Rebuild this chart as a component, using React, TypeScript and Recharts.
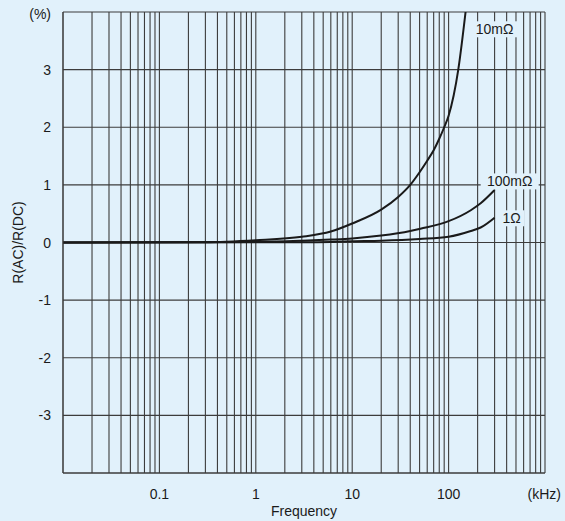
import React from 'react'
import { LineChart, Line, XAxis, YAxis, CartesianGrid, ReferenceDot } from 'recharts'

// ─── Palette ─────────────────────────────────────────────────────────────────
const BG = '#e1f1fb'
const INK = '#1a1a1a'
const GRID = '#3c3c3c'
const FONT = '"Liberation Sans", Arial, Helvetica, sans-serif'

// ─── Axes ────────────────────────────────────────────────────────────────────
const decades = [0.01, 0.1, 1, 10, 100]
const multipliers = [1, 2, 3, 4, 5, 6, 7, 8, 9]
const xTicks = [...decades.flatMap(d => multipliers.map(m => +(d * m).toPrecision(3))), 1000]
const xLabels: Record<number, string> = { 0.1: '0.1', 1: '1', 10: '10', 100: '100', 1000: '(kHz)' }
const yTicks = [-4, -3, -2, -1, 0, 1, 2, 3, 4]
const yLabels: Record<number, string> = { 4: '(%)', 3: '3', 2: '2', 1: '1', 0: '0', '-1': '-1', '-2': '-2', '-3': '-3' }

// ─── Series (frequency kHz → R(AC)/R(DC) %) ─────────────────────────────────
const freq10m = [0.01, 0.3, 1, 3, 6, 10, 20, 30, 40, 50, 60, 70, 80, 90, 100, 126, 150]
const val10m  = [0, 0.005, 0.04, 0.1, 0.19, 0.33, 0.57, 0.79, 1.0, 1.22, 1.42, 1.6, 1.8, 2.0, 2.2, 3.0, 4.0]

const freq100m = [0.01, 1, 3, 6, 10, 20, 40, 51, 100, 170, 215, 300]
const val100m  = [0, 0.01, 0.03, 0.05, 0.07, 0.12, 0.2, 0.24, 0.37, 0.56, 0.68, 0.91]

const freq1 = [0.01, 3, 6, 10, 20, 50, 100, 170, 215, 300]
const val1  = [0, 0.005, 0.01, 0.02, 0.03, 0.06, 0.1, 0.2, 0.26, 0.43]

const zip = (f: number[], v: number[]) => f.map((x, i) => ({ f: x, v: v[i] }))

// series labels, anchored in data space
const seriesLabels = [
  { text: '10mΩ', f: 300, v: 3.7, w: 46 },
  { text: '100mΩ', f: 430, v: 1.06, w: 58 },
  { text: '1Ω', f: 450, v: 0.42, w: 26 },
]

function XTick({ x, y, payload }: { x: number; y: number; payload: { value: number } }) {
  const label = xLabels[payload.value]
  if (!label) return null
  const end = payload.value === 1000
  return (
    <text x={end ? x + 16 : x} y={y + 13} textAnchor={end ? 'end' : 'middle'} dominantBaseline="central"
      fill={INK} fontSize={14} fontFamily={FONT}>{label}</text>
  )
}

function YTick({ x, y, payload }: { x: number; y: number; payload: { value: number } }) {
  const label = yLabels[payload.value]
  if (!label) return null
  return (
    <text x={x - 2} y={payload.value === 4 ? y + 2 : y} textAnchor="end" dominantBaseline="central"
      fill={INK} fontSize={14} fontFamily={FONT}>{label}</text>
  )
}

function TagShape({ cx, cy, text, w }: { cx?: number; cy?: number; text: string; w: number }) {
  if (cx == null || cy == null) return null
  return (
    <g>
      <rect x={cx - w / 2} y={cy - 8} width={w} height={16} fill={BG} />
      <text x={cx} y={cy} textAnchor="middle" dominantBaseline="central" fill={INK} fontSize={14} fontFamily={FONT}>{text}</text>
    </g>
  )
}

export default function App() {
  return (
    <div style={{ position: 'absolute', left: 0, top: 0, width: 565, height: 521, background: BG }}>
      <LineChart width={565} height={521} margin={{ top: 12, right: 20, bottom: 0, left: 0 }}>
        <CartesianGrid stroke={GRID} strokeWidth={1.1} fill={BG}
          verticalValues={xTicks} horizontalValues={yTicks} />
        <XAxis dataKey="f" type="number" scale="log" domain={[0.01, 1000]} allowDataOverflow
          ticks={xTicks} interval={0} height={48} axisLine={{ stroke: GRID }} tickLine={false}
          tick={XTick as never}
          label={({ viewBox }: { viewBox: { x: number; y: number; width: number } }) => (
            <text x={viewBox.x + viewBox.width / 2} y={viewBox.y + 38} textAnchor="middle" dominantBaseline="central"
              fill={INK} fontSize={14} fontFamily={FONT}>Frequency</text>
          )} />
        <YAxis dataKey="v" type="number" domain={[-4, 4]} allowDataOverflow ticks={yTicks} interval={0}
          width={63} axisLine={{ stroke: GRID }} tickLine={false} tickSize={8}
          tick={YTick as never}
          label={({ viewBox }: { viewBox: { x: number; y: number; height: number } }) => {
            const cx = 18, cy = viewBox.y + viewBox.height / 2
            return (
              <text x={cx} y={cy} transform={`rotate(-90 ${cx} ${cy})`} textAnchor="middle" dominantBaseline="central"
                fill={INK} fontSize={14} fontFamily={FONT}>R(AC)/R(DC)</text>
            )
          }} />
        <Line data={zip(freq1, val1)} dataKey="v" type="monotone" stroke={INK} strokeWidth={2} dot={false} isAnimationActive={false} />
        <Line data={zip(freq100m, val100m)} dataKey="v" type="monotone" stroke={INK} strokeWidth={2} dot={false} isAnimationActive={false} />
        <Line data={zip(freq10m, val10m)} dataKey="v" type="monotone" stroke={INK} strokeWidth={2} dot={false} isAnimationActive={false} />
        {seriesLabels.map(s => (
          <ReferenceDot key={s.text} x={s.f} y={s.v} r={0}
            shape={(p: { cx?: number; cy?: number }) => <TagShape cx={p.cx} cy={p.cy} text={s.text} w={s.w} />} />
        ))}
      </LineChart>
    </div>
  )
}
